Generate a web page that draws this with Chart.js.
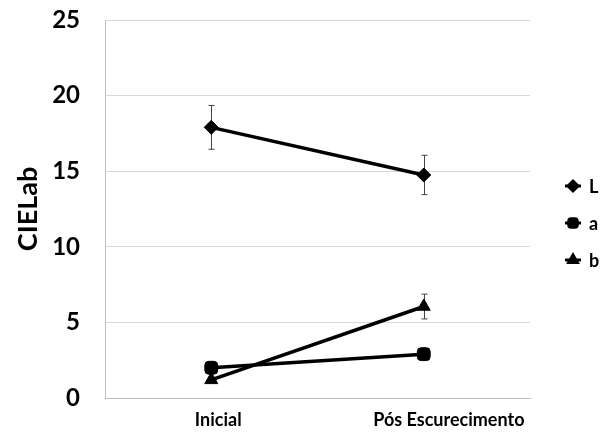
<!DOCTYPE html>
<html><head><meta charset="utf-8">
<script src="https://cdn.jsdelivr.net/npm/chart.js@4"></script>
<style>html,body{margin:0;padding:0;background:#fff}</style>
</head><body>
<canvas id="c" width="608" height="435" style="width:608px;height:435px;display:block"></canvas>
<script>
const categories = ["Inicial", "Pós Escurecimento"];
const seriesNames = ["L", "a", "b"];
const valuesL = [17.9, 14.75];
const valuesA = [2.0, 2.9];
const valuesB = [1.2, 6.05];
const errL = [1.45, 1.3];
const errA = [0.2, 0.35];
const errB = [0.2, 0.82];
const yTicks = [0, 5, 10, 15, 20, 25];

const FONT = "Lato, 'Open Sans', sans-serif";

const errorBars = {
  id: 'errorBars',
  beforeDatasetsDraw(chart) {
    const ctx = chart.ctx, xs = chart.scales.x, ys = chart.scales.y;
    ctx.save();
    ctx.strokeStyle = '#444';
    ctx.lineWidth = 1;
    chart.data.datasets.forEach(ds => {
      ds.data.forEach((v, i) => {
        const e = ds.errors[i];
        const x = Math.round(xs.getPixelForValue(i)) + 0.5;
        const y1 = ys.getPixelForValue(v + e), y2 = ys.getPixelForValue(v - e);
        ctx.beginPath();
        ctx.moveTo(x, y1); ctx.lineTo(x, y2);
        ctx.moveTo(x - 3, y1); ctx.lineTo(x + 3, y1);
        ctx.moveTo(x - 3, y2); ctx.lineTo(x + 3, y2);
        ctx.stroke();
      });
    });
    ctx.restore();
  }
};

const sideLegend = {
  id: 'sideLegend',
  afterDraw(chart) {
    const ctx = chart.ctx, area = chart.chartArea;
    const x0 = area.right + 43, ymid = (area.top + area.bottom) / 2 + 14, step = 37;
    ctx.save();
    chart.data.datasets.forEach((ds, i) => {
      const y = ymid + (i - 1) * step;
      ctx.strokeStyle = '#000'; ctx.lineWidth = 3;
      ctx.beginPath(); ctx.moveTo(x0 - 8, y); ctx.lineTo(x0 + 8, y); ctx.stroke();
      ctx.fillStyle = '#000';
      Chart.helpers.drawPoint(ctx, { pointStyle: ds.pointStyle, radius: 5, rotation: 0, borderWidth: 1 }, x0, y);
      ctx.fillStyle = '#000';
      ctx.font = "bold 18px " + FONT;
      ctx.textAlign = 'left'; ctx.textBaseline = 'middle';
      ctx.fillText(ds.label, x0 + 16, y + 1);
    });
    ctx.restore();
  }
};

function mk(label, data, errors, style, r) {
  return {
    label, data, errors,
    borderColor: '#000', backgroundColor: '#000',
    borderWidth: 3.5, pointStyle: style, pointRadius: r, pointHoverRadius: r,
    pointBorderWidth: 1, tension: 0
  };
}

new Chart(document.getElementById('c'), {
  type: 'line',
  data: {
    labels: categories,
    datasets: [
      mk(seriesNames[0], valuesL, errL, 'rectRot', 7),
      mk(seriesNames[1], valuesA, errA, 'rectRounded', 7.5),
      mk(seriesNames[2], valuesB, errB, 'triangle', 7.5)
    ]
  },
  options: {
    responsive: false,
    animation: false,
    layout: { padding: { left: 12, right: 78, top: 20, bottom: 0 } },
    plugins: {
      tooltip: { enabled: false },
      legend: { display: false }
    },
    scales: {
      x: {
        offset: true,
        afterBuildTicks(s) { s.ticks = [{ value: 0.033 }, { value: 1.118 }]; },
        grid: { display: false, drawTicks: false },
        border: { display: true, color: '#bfbfbf', width: 1 },
        ticks: {
          color: '#000', padding: 11, autoSkip: false, maxRotation: 0,
          callback: (v, i) => categories[i],
          font: { family: FONT, size: 18, weight: 'bold' }
        },
        afterFit(s) { s.height = 37; s.paddingLeft = 0; s.paddingRight = 0; }
      },
      y: {
        min: 0, max: 25,
        afterBuildTicks(s) { s.ticks = yTicks.map(v => ({ value: v })); },
        grid: { color: '#d9d9d9', drawTicks: false },
        border: { display: true, color: '#bfbfbf', width: 1 },
        ticks: { color: '#000', padding: 25, font: { family: FONT, size: 24, weight: 'bold' } },
        title: { display: true, text: 'CIELab', color: '#000', padding: 0, font: { family: FONT, size: 27, weight: 'bold' } },
        afterFit(s) { s.width = 93; s.paddingTop = 0; s.paddingBottom = 0; }
      }
    }
  },
  plugins: [errorBars, sideLegend]
});
</script>
</body></html>
